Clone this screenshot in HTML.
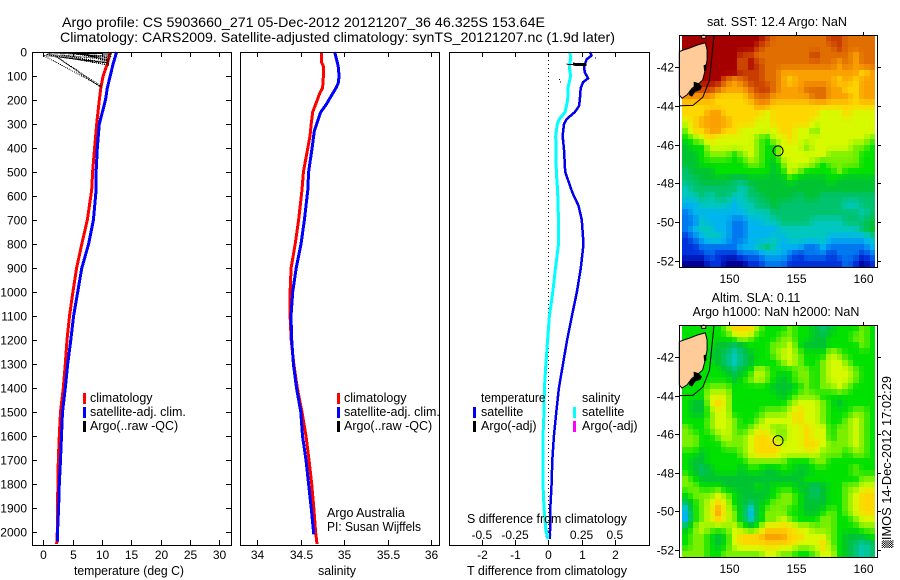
<!DOCTYPE html>
<html>
<head>
<meta charset="utf-8">
<title>Argo profile</title>
<style>
html,body{margin:0;padding:0;background:#fff;}
#figure{display:block;width:900px;height:580px;background:#fff;font-family:"Liberation Sans",sans-serif;}
text{font-family:"Liberation Sans",sans-serif;font-size:12.5px;fill:#000;}
text.tick{font-size:12px;}
.title{font-size:14px;}
</style>
</head>
<body>
<svg id="figure" xmlns="http://www.w3.org/2000/svg" width="900" height="580" viewBox="0 0 900 580">
<text class="title" x="62" y="27" textLength="483" lengthAdjust="spacingAndGlyphs">Argo profile: CS 5903660_271 05-Dec-2012 20121207_36 46.325S 153.64E</text>
<text class="title" x="60" y="42" textLength="555" lengthAdjust="spacingAndGlyphs">Climatology: CARS2009. Satellite-adjusted climatology: synTS_20121207.nc (1.9d later)</text>
<g id="layer-maps"></g>
<g id="layer-panels"></g>

<text x="74" y="575" textLength="110" lengthAdjust="spacingAndGlyphs">temperature (deg C)</text>
<text x="318" y="575" textLength="38" lengthAdjust="spacingAndGlyphs">salinity</text>
<text x="467" y="575" textLength="160" lengthAdjust="spacingAndGlyphs">T difference from climatology</text>
<text x="467" y="523" textLength="160" lengthAdjust="spacingAndGlyphs">S difference from climatology</text>

<g>
<rect x="83" y="393" width="3" height="11" fill="#ff0000"/>
<text x="90" y="402">climatology</text>
<rect x="83" y="407" width="3" height="11" fill="#0000ff"/>
<text x="90" y="416">satellite-adj. clim.</text>
<rect x="83" y="421" width="3" height="11" fill="#000"/>
<text x="90" y="430">Argo(..raw -QC)</text>
</g>
<g>
<rect x="337" y="393" width="3" height="11" fill="#ff0000"/>
<text x="344" y="402">climatology</text>
<rect x="337" y="407" width="3" height="11" fill="#0000ff"/>
<text x="344" y="416">satellite-adj. clim.</text>
<rect x="337" y="421" width="3" height="11" fill="#000"/>
<text x="344" y="430">Argo(..raw -QC)</text>
</g>
<g>
<text x="481" y="402" textLength="64.5" lengthAdjust="spacingAndGlyphs">temperature</text>
<rect x="473" y="407" width="3" height="11" fill="#0000ee"/>
<text x="481" y="416">satellite</text>
<rect x="473" y="421" width="3" height="11" fill="#000"/>
<text x="481" y="430">Argo(-adj)</text>
<text x="582" y="402">salinity</text>
<rect x="573" y="407" width="3" height="11" fill="#00ffff"/>
<text x="582" y="416">satellite</text>
<rect x="573" y="421" width="3" height="11" fill="#ff00ff"/>
<text x="582" y="430">Argo(-adj)</text>
</g>
<text x="327" y="517">Argo Australia</text>
<text x="327" y="531" textLength="94" lengthAdjust="spacingAndGlyphs">PI: Susan Wijffels</text>

<text x="777" y="26" text-anchor="middle" textLength="140" lengthAdjust="spacingAndGlyphs">sat. SST: 12.4  Argo: NaN</text>
<text x="756" y="302" text-anchor="middle">Altim. SLA: 0.11</text>
<text x="776" y="316" text-anchor="middle">Argo h1000: NaN h2000: NaN</text>
<text transform="translate(891 548) rotate(-90)" textLength="172" lengthAdjust="spacingAndGlyphs"><tspan font-family="DejaVu Sans" font-size="10">▒</tspan>IMOS 14-Dec-2012 17:02:29</text>
</svg>

<script>
// ---- profile data ----
const depthTicks = [0,100,200,300,400,500,600,700,800,900,1000,1100,1200,1300,1400,1500,1600,1700,1800,1900,2000];
const tempTicks = [0,5,10,15,20,25,30];
const salTicks = [34,34.5,35,35.5,36];
const salTickLabels = ['34','34.5','35','35.5','36'];
const tDiffTicks = [-2,-1,0,1,2];
const sDiffTicks = [-0.5,-0.25,0,0.25,0.5];
const sDiffTickLabels = ['-0.5','-0.25','0','0.25','0.5'];

const tempClimDepth = [0,50,100,150,200,300,400,500,575,700,800,900,1000,1100,1200,1300,1400,1500,1600,1700,1800,1900,2000,2050];
const tempClim = [11.4,10.9,10.2,9.8,9.55,9.1,8.75,8.4,8.25,7.5,6.56,5.67,5.05,4.47,4.04,3.75,3.41,2.93,2.73,2.56,2.5,2.39,2.39,2.28];
const tempSatDepth = [0,50,100,150,200,300,400,500,575,700,800,900,1000,1100,1200,1300,1400,1500,1600,1700,1800,1900,2000,2040];
const tempSat = [12.5,11.9,11.4,10.9,10.6,9.55,9.2,9.0,9.0,8.54,7.72,6.56,5.86,5.16,4.69,4.16,3.75,3.27,3.1,2.93,2.73,2.6,2.42,2.39];
const argoRawDepth = [3,8,4,18,4,25,5,35,5,40,6,48,8,54,10,30,12,45,14,145,16,150];
const argoRawTemp = [0,11.6,2,11.5,4,11.4,5,11.3,6,11.2,7,11.2,1,11.1,0.5,11,3,11,0,10,2,9.9];

const salClimDepth = [0,40,60,100,150,170,200,250,300,350,400,500,575,700,800,900,1000,1100,1200,1300,1400,1500,1600,1700,1800,1900,2000,2050];
const salClim = [34.736,34.736,34.76,34.76,34.75,34.72,34.69,34.637,34.62,34.606,34.58,34.53,34.514,34.475,34.436,34.389,34.377,34.377,34.39,34.42,34.46,34.514,34.56,34.594,34.625,34.65,34.67,34.686];
const salSatDepth = [0,30,60,100,130,150,180,220,250,280,330,400,500,575,700,800,900,1000,1100,1200,1300,1400,1500,1600,1700,1800,1900,2010];
const salSat = [34.89,34.91,34.93,34.94,34.93,34.905,34.855,34.79,34.73,34.70,34.655,34.63,34.59,34.58,34.541,34.502,34.447,34.407,34.387,34.395,34.415,34.45,34.5,34.52,34.56,34.59,34.62,34.65];

const tDiffDepth = [0,15,30,60,85,100,110,125,150,200,225,250,280,300,350,400,500,575,600,640,700,800,900,1000,1100,1200,1300,1400,1500,1600,1700,1800,1900,2000,2030];
const tDiff = [1.256,1.3,1.16,1.075,1.1,1.16,1.2,1.05,0.976,0.95,0.925,0.8,0.55,0.473,0.43,0.47,0.51,0.70,0.77,0.91,1.01,1.06,0.98,0.86,0.71,0.566,0.443,0.32,0.24,0.17,0.12,0.1,0.06,0.05,0.05];
const sDiffDepth = [0,30,60,100,150,200,250,280,300,350,400,500,575,700,800,900,1000,1100,1200,1300,1400,1500,1600,1700,1800,1900,2000,2030];
const sDiff = [0.163,0.168,0.158,0.168,0.148,0.146,0.126,0.083,0.068,0.056,0.058,0.06,0.07,0.077,0.077,0.054,0.034,0.008,-0.005,-0.018,-0.029,-0.032,-0.04,-0.04,-0.04,-0.032,-0.017,0];
const argoDiffDepth = [51,53];
const argoDiffThick = [0.75,1.15];
const argoDiffThin = [0.55,0.75];
const argoSpotDepth = [22,112,123];
const argoSpotDiff = [1.4,0.32,0.35];

// ---- map data: colour levels 0 (navy) .. 14 (dark red) ----
const mapLonTicks = [150,155,160];
const mapLatTicks = [-42,-44,-46,-48,-50,-52];
const floatLon = 153.64;
const floatLat = -46.325;

const sstLevels = [
[14,14,14,14,14,14,14,14,14,14,13,12,12,12,12,12,12,12,13,13,12,12,12,12],
[14,14,14,14,14,14,14,14,14,13,12,12,12,12,12,12,12,12,12,13,12,12,12,12],
[14,14,14,14,14,14,14,13,13,12,12,12,12,12,12,12,13,12,12,12,12,11,12,12],
[14,14,14,14,14,14,14,12,14,13,12,12,12,12,12,12,12,12,12,11,12,11,12,12],
[14,14,14,14,14,14,14,13,13,13,12,12,11,11,11,11,11,11,11,11,11,11,10,11],
[14,14,14,14,14,12,11,12,13,13,12,12,11,10,11,11,11,11,11,10,11,10,11,11],
[13,13,13,13,12,11,11,11,12,13,13,12,11,11,11,12,12,12,11,11,10,10,11,11],
[11,11,11,11,10,10,10,10,11,12,12,11,11,11,11,11,12,12,11,11,11,10,11,11],
[10,10,10,10,10,10,10,10,10,11,11,10,10,10,10,10,10,10,10,10,10,10,10,10],
[10,10,10,11,11,10,10,10,10,10,9,10,10,10,10,10,10,9,9,9,10,9,9,9],
[9,10,11,11,11,11,10,10,10,9,9,10,10,10,10,10,9,9,9,9,9,9,9,9],
[8,10,10,11,11,10,10,9,9,9,9,9,10,10,9,9,8,9,9,9,9,9,9,9],
[7,8,9,10,9,9,9,9,9,8,7,9,9,10,9,9,9,9,9,9,9,9,9,8],
[6,7,7,9,9,9,9,9,9,8,7,7,9,9,9,8,9,9,9,9,9,8,8,7],
[6,6,7,8,8,8,7,8,9,8,7,7,9,9,9,9,9,9,8,8,8,8,7,7],
[6,6,7,7,7,7,7,7,8,8,7,6,8,9,9,9,8,7,8,8,8,8,7,7],
[5,6,6,6,7,7,7,7,7,7,7,6,7,9,8,7,7,7,7,8,7,7,7,7],
[5,5,6,6,6,6,5,5,6,6,6,6,6,7,6,6,6,6,7,6,6,6,6,6],
[4,5,5,5,5,5,5,4,5,6,6,6,6,6,6,6,6,6,6,6,6,6,6,6],
[4,4,5,4,5,5,4,4,5,5,6,6,6,6,5,6,6,5,5,5,5,5,5,5],
[3,3,4,4,4,4,3,4,4,5,5,6,5,5,5,5,5,5,5,5,4,4,5,5],
[2,3,3,3,3,3,3,3,4,4,4,5,5,5,5,5,5,5,5,5,5,5,4,5],
[2,2,4,3,3,3,2,2,3,3,4,4,5,5,5,5,4,4,4,4,5,5,5,6],
[2,3,4,4,3,3,2,2,3,3,3,3,4,4,4,4,4,4,4,4,4,4,5,6],
[1,2,3,4,4,3,2,2,3,3,3,4,3,4,4,4,4,4,3,3,3,3,3,4],
[1,1,2,2,2,2,2,3,3,4,5,4,3,3,3,2,2,3,2,2,2,2,2,3],
[1,1,1,2,1,1,1,2,2,2,3,3,3,2,1,2,2,2,1,2,2,2,1,2],
[0,0,0,1,1,0,0,0,1,1,2,2,2,1,1,1,1,1,1,1,2,1,0,1]
];
const slaLevels = [
[7,7,7,7,7,8,10,10,10,8,7,7,7,8,7,7,6,5,6,7,7,7,8,7],
[7,7,7,7,7,7,8,9,8,7,7,7,8,8,7,7,6,6,7,7,7,8,8,7],
[7,7,7,7,6,6,5,6,7,7,7,8,8,9,7,6,6,6,7,7,7,7,8,7],
[7,7,7,6,6,5,4,5,6,7,7,8,9,9,8,7,7,7,9,8,7,7,7,7],
[7,7,7,7,6,5,4,5,6,7,7,7,8,9,8,7,7,8,9,9,8,7,7,7],
[7,7,7,7,7,6,5,6,7,9,8,7,7,7,8,8,7,8,9,9,9,8,7,7],
[7,7,7,7,7,7,6,7,8,9,8,7,6,7,8,8,7,8,9,9,9,8,7,7],
[7,7,7,8,8,8,7,7,7,7,7,6,6,6,7,8,7,8,8,9,8,7,7,7],
[7,7,7,9,9,9,7,7,7,7,7,7,6,7,8,8,8,7,7,7,7,7,7,7],
[7,6,6,9,10,9,7,7,7,7,7,7,7,8,9,9,9,8,7,6,7,7,7,7],
[7,6,6,8,9,9,7,7,7,7,8,8,8,9,10,9,9,8,7,7,7,8,8,7],
[7,7,7,8,9,9,8,7,7,8,9,9,9,9,10,9,9,8,7,7,8,9,8,7],
[8,7,7,8,9,9,8,7,8,9,9,8,8,9,9,10,9,9,7,8,8,9,8,7],
[8,8,7,7,8,9,8,8,9,10,10,9,8,9,9,10,9,9,7,8,8,9,8,7],
[8,8,7,7,7,8,8,8,9,10,10,10,9,9,9,10,10,9,8,8,8,9,8,7],
[7,7,6,7,7,7,7,8,9,10,10,10,9,9,9,9,9,8,8,8,7,8,8,7],
[7,6,6,7,7,7,7,7,8,8,8,8,8,7,7,7,8,8,7,7,7,7,7,7],
[7,6,5,6,7,7,7,6,7,7,6,6,7,7,6,6,7,7,7,7,7,8,7,7],
[8,7,6,6,6,6,6,6,6,6,6,6,6,6,6,7,7,7,7,7,7,7,8,8],
[8,8,7,7,7,6,6,6,6,7,6,7,7,7,6,6,5,6,7,7,8,8,9,9],
[7,8,8,8,9,8,7,6,6,6,6,7,8,8,7,6,5,6,7,7,8,9,10,10],
[5,7,8,9,10,9,7,6,5,6,7,8,8,8,7,6,6,6,7,7,8,9,10,10],
[3,7,8,9,11,9,8,6,3,6,8,8,8,7,7,6,6,7,8,7,8,9,10,10],
[3,7,8,9,10,9,8,6,4,6,8,8,9,8,7,7,7,8,8,7,7,8,9,9],
[6,8,9,8,8,8,9,8,7,8,10,10,10,10,9,9,8,8,8,7,7,7,8,8],
[7,8,8,7,6,7,9,10,10,10,11,11,11,10,10,9,9,9,8,7,6,6,6,7],
[7,8,8,7,6,7,9,10,10,10,10,10,10,10,9,9,9,10,8,7,6,5,4,5],
[8,8,8,7,7,8,8,8,8,8,9,9,8,8,7,7,8,9,9,7,6,5,4,5]
];
const landLon = [146.27,146.6,146.97,147.59,148.21,148.34,148.34,148.21,148.01,147.59,147.22,146.84,146.47,146.27];
const landLat = [-41.19,-41.1,-41.02,-40.85,-40.73,-41.1,-41.62,-42.14,-42.66,-42.92,-43.09,-43.43,-43.6,-43.43];
const isobathLon = [148.86,148.67,148.52,148.03,147.29,146.3];
const isobathLat = [-40.33,-41.62,-42.66,-43.54,-43.97,-43.99];
const reefLon = [147.34,147.72,147.96,147.84,147.46,147.22,146.97,147.09,147.34];
const reefLat = [-42.74,-42.83,-43.0,-43.17,-43.26,-43.52,-43.43,-43.17,-43.09];
const reefTwoLon = [148.08,148.25,148.3,148.12];
const reefTwoLat = [-41.9,-41.85,-42.15,-42.2];
const islandLon = [147.9,148.05,148.25,148.25,147.95];
const islandLat = [-40.4,-40.33,-40.36,-40.5,-40.5];

const levelColors = [[0,0,150],[0,50,220],[0,120,240],[0,180,240],[0,200,190],[0,195,110],[0,195,50],[0,225,0],[120,240,0],[215,250,0],[255,215,0],[250,160,0],[225,110,0],[200,60,0],[165,0,0]];

const SVGNS = 'http://www.w3.org/2000/svg';
const panelLayer = document.getElementById('layer-panels');
const mapLayer = document.getElementById('layer-maps');

function svgEl(tag, parent, attrs) {
  const el = document.createElementNS(SVGNS, tag);
  for (const k in attrs) el.setAttribute(k, attrs[k]);
  parent.appendChild(el);
  return el;
}
function levelColor(v) {
  const c = Math.max(0, Math.min(levelColors.length - 1, v));
  const i = Math.min(levelColors.length - 2, Math.floor(c));
  const f = c - i;
  const a = levelColors[i], b = levelColors[i + 1];
  return 'rgb(' + [0,1,2].map(function (n) { return Math.round(a[n] + (b[n] - a[n]) * f); }).join(',') + ')';
}
// read a level grid at fractional row/column, for the map's display cells
function sampleGrid(grid, r, c) {
  const nr = grid.length, nc = grid[0].length;
  const rr = Math.max(0, Math.min(nr - 1, r)), cc = Math.max(0, Math.min(nc - 1, c));
  const r0 = Math.floor(rr), c0 = Math.floor(cc);
  const r1 = Math.min(nr - 1, r0 + 1), c1 = Math.min(nc - 1, c0 + 1);
  const fr = rr - r0, fc = cc - c0;
  const top = grid[r0][c0] * (1 - fc) + grid[r0][c1] * fc;
  const bot = grid[r1][c0] * (1 - fc) + grid[r1][c1] * fc;
  return top * (1 - fr) + bot * fr;
}

// ---- axis functions ----
const depthY = function (d) { return 52 + d * 0.24; };
const tempX = function (t) { return 43.3 + t * 5.867; };
const salX = function (s) { return 257.3 + (s - 34) * 87; };
const tDiffX = function (t) { return 548.3 + t * 33.2; };
const sDiffX = function (s) { return 548.3 + s * 133; };

function pathFrom(xs, ys) {
  return xs.map(function (x, i) { return (i ? 'L' : 'M') + x.toFixed(1) + ' ' + ys[i].toFixed(1); }).join(' ');
}
function drawSeries(xFn, values, depths, color, width, name) {
  const el = svgEl('path', panelLayer, {
    d: pathFrom(values.map(xFn), depths.map(depthY)),
    fill: 'none', stroke: color, 'stroke-width': width,
    'stroke-linejoin': 'round', 'shape-rendering': 'crispEdges'
  });
  
  
  return el;
}
function drawBox(left, top, right, bottom, name) {
  const el = svgEl('rect', panelLayer, { x: left + 0.5, y: top + 0.5, width: right - left, height: bottom - top, fill: 'none', stroke: '#000', 'stroke-width': 1, 'shape-rendering': 'crispEdges' });
  
  
}
function drawTick(parent, x1, y1, x2, y2) {
  const el = svgEl('line', parent, { x1: x1, y1: y1, x2: x2, y2: y2, stroke: '#000', 'stroke-width': 1, 'shape-rendering': 'crispEdges' });
  
  
}
function drawLabel(parent, x, y, anchor, str) {
  const el = svgEl('text', parent, { x: x, y: y, 'text-anchor': anchor, 'class': 'tick' });
  el.textContent = str;
  
  
}

const PT = 52, PB = 545;
// temperature panel
depthTicks.forEach(function (d) {
  const y = Math.round(depthY(d)) + 0.5;
  drawTick(panelLayer, 32, y, 37, y);
  drawTick(panelLayer, 226, y, 231, y);
  drawLabel(panelLayer, 27, y + 4, 'end', String(d));
});
tempTicks.forEach(function (t) {
  const x = Math.round(tempX(t)) + 0.5;
  drawTick(panelLayer, x, PT, x, PT + 5);
  drawTick(panelLayer, x, PB, x, PB - 5);
  drawLabel(panelLayer, x, 559, 'middle', String(t));
});
// salinity panel
salTicks.forEach(function (s, i) {
  const x = Math.round(salX(s)) + 0.5;
  drawTick(panelLayer, x, PT, x, PT + 5);
  drawTick(panelLayer, x, PB, x, PB - 5);
  drawLabel(panelLayer, x, 559, 'middle', salTickLabels[i]);
});
// difference panel
tDiffTicks.forEach(function (t) {
  const x = Math.round(tDiffX(t)) + 0.5;
  drawTick(panelLayer, x, PT, x, PT + 5);
  drawTick(panelLayer, x, PB, x, PB - 5);
  drawLabel(panelLayer, x, 559, 'middle', String(t));
});
sDiffTicks.forEach(function (s, i) {
  drawLabel(panelLayer, sDiffX(s), 539, 'middle', sDiffTickLabels[i]);
});

const zeroLine = svgEl('line', panelLayer, { x1: tDiffX(0), y1: PT, x2: tDiffX(0), y2: PB, stroke: '#000', 'stroke-width': 1, 'stroke-dasharray': '1 3', 'shape-rendering': 'crispEdges' });



drawSeries(tempX, tempClim, tempClimDepth, '#ff0000', 3, 'temperature-climatology-line');
drawSeries(tempX, tempSat, tempSatDepth, '#0000ff', 3, 'temperature-satellite-line');
const argoRaw = drawSeries(tempX, argoRawTemp, argoRawDepth, '#000', 1, 'temperature-argo-raw-line');
argoRaw.setAttribute('stroke-dasharray', '1 1');

drawSeries(salX, salClim, salClimDepth, '#ff0000', 3, 'salinity-climatology-line');
drawSeries(salX, salSat, salSatDepth, '#0000ff', 3, 'salinity-satellite-line');

drawSeries(sDiffX, sDiff, sDiffDepth, '#00ffff', 3, 'salinity-difference-line');
drawSeries(tDiffX, tDiff, tDiffDepth, '#0000ee', 2.5, 't-difference-line');
drawSeries(tDiffX, argoDiffThin, argoDiffDepth, '#000', 1, 'argo-t-difference-thin-line');
drawSeries(tDiffX, argoDiffThick, argoDiffDepth, '#000', 3, 'argo-t-difference-line');
argoSpotDepth.forEach(function (d, i) {
  const dot = svgEl('rect', panelLayer, { x: tDiffX(argoSpotDiff[i]), y: depthY(d), width: 1, height: 1, fill: '#000', 'shape-rendering': 'crispEdges' });
  
  
});

drawBox(32, PT, 231, PB, 'temperature-panel-frame');
drawBox(240, PT, 439, PB, 'salinity-panel-frame');
drawBox(449, PT, 649, PB, 'difference-panel-frame');

// ---- maps ----
function drawMap(cfg) {
  const lonX = function (lon) { return 729.3 + (lon - 150) * 13.4; };
  const latY = function (lat) { return cfg.y42 + (-42 - lat) * cfg.scale; };
  const group = svgEl('g', mapLayer, {});
  
  

  const bg = svgEl('rect', group, { x: 679, y: cfg.top, width: 198, height: cfg.bottom - cfg.top, fill: '#fff' });
  
  

  const lon0 = 146.47, lon1 = 160.9;
  const lat0 = -42 - (cfg.top - cfg.y42) / cfg.scale;
  const lat1 = -42 - (cfg.bottom - cfg.y42) / cfg.scale;
  const nRows = cfg.levels.length, nCols = cfg.levels[0].length;
  const dispCols = 35, dispRows = 40;
  for (let r = 0; r < dispRows; r++) {
    for (let c = 0; c < dispCols; c++) {
      const x0 = Math.round(lonX(lon0 + (lon1 - lon0) * c / dispCols));
      const x1 = Math.round(lonX(lon0 + (lon1 - lon0) * (c + 1) / dispCols));
      const y0 = Math.round(latY(lat0 + (lat1 - lat0) * r / dispRows));
      const y1 = Math.round(latY(lat0 + (lat1 - lat0) * (r + 1) / dispRows));
      const v = sampleGrid(cfg.levels, (r + 0.5) / dispRows * nRows - 0.5, (c + 0.5) / dispCols * nCols - 0.5);
      const cell = svgEl('rect', group, { x: x0, y: y0, width: x1 - x0, height: y1 - y0, fill: levelColor(v), 'shape-rendering': 'crispEdges' });
      
      
    }
  }

  const land = svgEl('path', group, { d: pathFrom(landLon.map(lonX), landLat.map(latY)) + ' Z', fill: '#ffcc99', stroke: '#000', 'stroke-width': 1 });
  
  
  const reef = svgEl('path', group, { d: pathFrom(reefLon.map(lonX), reefLat.map(latY)) + ' Z', fill: '#000' });
  
  
  const reefTwo = svgEl('path', group, { d: pathFrom(reefTwoLon.map(lonX), reefTwoLat.map(latY)) + ' Z', fill: '#000' });
  
  
  const island = svgEl('path', group, { d: pathFrom(islandLon.map(lonX), islandLat.map(latY)) + ' Z', fill: '#ffcc99', stroke: '#000', 'stroke-width': 1 });
  
  
  const iso = svgEl('path', group, { d: pathFrom(isobathLon.map(lonX), isobathLat.map(latY)), fill: 'none', stroke: '#000', 'stroke-width': 1 });
  
  

  const marker = svgEl('circle', group, { cx: lonX(floatLon), cy: latY(floatLat), r: 5, fill: 'none', stroke: '#000', 'stroke-width': 1 });
  
  

  const frame = svgEl('rect', group, { x: 679.5, y: cfg.top + 0.5, width: 198, height: cfg.bottom - cfg.top, fill: 'none', stroke: '#000', 'stroke-width': 1, 'shape-rendering': 'crispEdges' });
  
  

  mapLonTicks.forEach(function (lon) {
    const x = Math.round(lonX(lon)) + 0.5;
    drawTick(group, x, cfg.top - 3, x, cfg.top);
    drawLabel(group, x, cfg.bottom + 16, 'middle', String(lon));
  });
  mapLatTicks.forEach(function (lat) {
    const y = Math.round(latY(lat)) + 0.5;
    drawTick(group, 675, y, 679, y);
    drawTick(group, 878, y, 881, y);
    drawLabel(group, 674, y + 4, 'end', String(lat));
  });
}
drawMap({ name: 'sst-map', levels: sstLevels, top: 35, bottom: 267, y42: 67.3, scale: 19.33 });
drawMap({ name: 'sla-map', levels: slaLevels, top: 325, bottom: 557, y42: 357.3, scale: 19.27 });
</script>
</body>
</html>
